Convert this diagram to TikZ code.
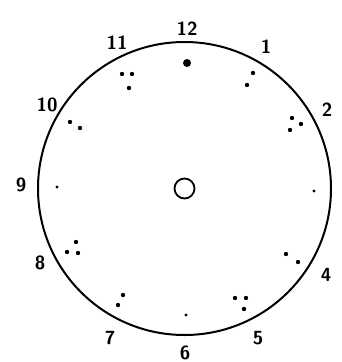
\documentclass[tikz,border=0pt]{standalone}
\usepackage{tikz}

\begin{document}
\begin{tikzpicture}[
    x=1pt, y=-1pt,
    num/.style={font=\fontsize{19}{19}\selectfont\sffamily\bfseries, inner sep=0pt},
    dot/.style={circle, fill, inner sep=0pt, minimum size=4.4pt},
    face/.style={line width=2pt}
]
\useasboundingbox (0,0) rectangle (342,362);

\coordinate (ctr) at (184.5,188.5);
\draw[face] (ctr) circle (146.5);
\node[circle, draw, line width=1.8pt, minimum size=20pt, inner sep=0pt] (hub) at (ctr) {};

\node[num] (n12) at (187,29) {12};
\node[num] (n1) at (266,47) {1};
\node[num] (n2) at (327,110) {2};
\node[num] (n4) at (326,275) {4};
\node[num] (n5) at (258,338) {5};
\node[num] (n6) at (185,353) {6};
\node[num] (n7) at (110,338) {7};
\node[num] (n8) at (40,263) {8};
\node[num] (n9) at (21,185) {9};
\node[num] (n10) at (47,105) {10};
\node[num] (n11) at (117,43) {11};

\node[dot, minimum size=8pt] (d12) at (187,63) {};

\node[dot] (d1a) at (253,73) {};
\node[dot] (d1b) at (247,85) {};

\node[dot] (d2a) at (292,118) {};
\node[dot] (d2b) at (301,124) {};
\node[dot] (d2c) at (290,130) {};

\node[dot, minimum size=3.4pt] (d3) at (314,191) {};

\node[dot] (d4a) at (286,254) {};
\node[dot] (d4b) at (298,262) {};

\node[dot] (d5a) at (235,298) {};
\node[dot] (d5b) at (246,298) {};
\node[dot] (d5c) at (244,309) {};

\node[dot, minimum size=3.4pt] (d6) at (186,315) {};

\node[dot] (d7a) at (123,295) {};
\node[dot] (d7b) at (118,305) {};

\node[dot] (d8a) at (76,242) {};
\node[dot] (d8b) at (67,252) {};
\node[dot] (d8c) at (78,253) {};

\node[dot, minimum size=3.4pt] (d9) at (57,187) {};

\node[dot] (d10a) at (70,122) {};
\node[dot] (d10b) at (80,128) {};

\node[dot] (d11a) at (122,74) {};
\node[dot] (d11b) at (132,74) {};
\node[dot] (d11c) at (129,88) {};
\end{tikzpicture}
\end{document}
